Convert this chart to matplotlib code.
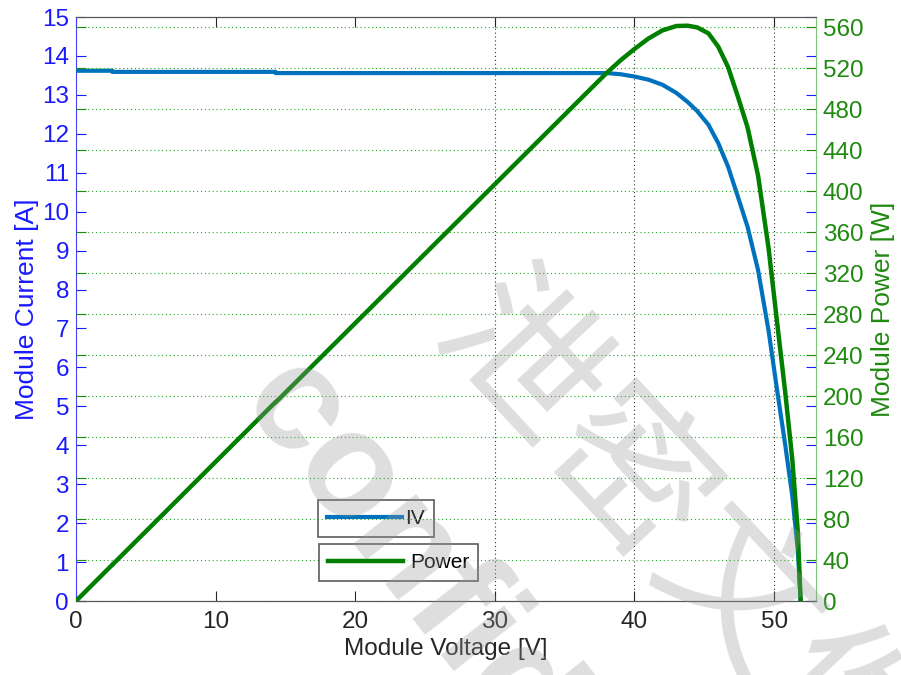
import numpy as np
import matplotlib.pyplot as plt

plt.rcParams['font.family'] = ['Liberation Sans', 'Noto Sans CJK SC', 'DejaVu Sans']

# IV curve
voltage = [0, 2.6, 2.6, 14.3, 14.3, 30, 36, 38, 39, 40, 41, 42, 43, 43.8, 44.5, 45.3,
           46, 46.7, 47.4, 48.1, 48.85, 49.6, 50.2, 50.8, 51.3, 51.7, 51.9]
current = [13.62, 13.62, 13.59, 13.59, 13.56, 13.56, 13.56, 13.56, 13.53, 13.47, 13.39, 13.26, 13.05, 12.82, 12.58, 12.23,
           11.76, 11.16, 10.39, 9.61, 8.5, 6.95, 5.45, 4.0, 2.7, 1.3, 0]
power = [0, 35.4, 35.3, 194.3, 193.9, 406.8, 488.2, 515.3, 527.7, 538.8, 549.0, 556.9, 561.2, 561.5, 559.8, 554.0,
         541.0, 521.2, 492.5, 462.2, 415.2, 344.7, 273.6, 203.2, 138.5, 67.2, 0]

x_ticks = [0, 10, 20, 30, 40, 50]
i_ticks = list(range(0, 16))
p_ticks = list(range(0, 561, 40))

blue = '#0072BD'
green = '#007F00'

fig = plt.figure(figsize=(9.01, 6.75), dpi=100)
ax1 = fig.add_axes([76/901, 1-601/675, 740/901, 584/675])
ax2 = ax1.twinx()

ax1.plot(voltage, current, color=blue, lw=3, label='IV', zorder=3, solid_joinstyle='round')
ax2.plot(voltage, power, color=green, lw=3.2, label='Power', zorder=3, solid_joinstyle='round')

ax1.set_xlim(0, 53)
ax1.set_ylim(0, 15)
ax2.set_ylim(0, 570)
ax1.set_xticks(x_ticks)
ax1.set_yticks(i_ticks)
ax2.set_yticks(p_ticks)

fs = 17.5
ax1.set_xlabel('Module Voltage [V]', fontsize=fs, color='#262626', labelpad=4)
ax1.set_ylabel('Module Current [A]', fontsize=19, color='#1a1aff', labelpad=2)
ax2.set_ylabel('Module Power [W]', fontsize=19, color='#1f8a0f', labelpad=5)

ax1.tick_params(axis='x', direction='in', top=True, length=7, labelsize=fs, colors='#262626', pad=7)
ax1.tick_params(axis='y', direction='in', right=True, length=7, labelsize=fs, colors='#1a1aff', pad=5)
ax2.tick_params(axis='y', direction='in', left=True, length=7, labelsize=fs, colors='#1f8a0f', pad=5)
for t in ax1.yaxis.get_ticklines():
    t.set_color('#3333ff')
for t in ax2.yaxis.get_ticklines():
    t.set_color('#2f9a2f')

for ax in (ax1, ax2):
    ax.spines['top'].set_color('#555555')
    ax.spines['bottom'].set_color('#555555')
ax1.spines['left'].set_color('#4444ff')
ax2.spines['left'].set_visible(False)
ax1.spines['right'].set_visible(False)
ax2.spines['right'].set_color('#7cc47c')

# grids: green horizontal from power axis, black vertical only on right part
ax2.grid(axis='y', color='#22aa22', linestyle=(0, (1, 2.5)), lw=0.8)
ax1.grid(axis='x', color='#333333', linestyle=(0, (1, 2.5)), lw=0.8)
for tick, line in zip(x_ticks, ax1.xaxis.get_gridlines()):
    if tick < 25:
        line.set_visible(False)

leg1 = ax1.legend(loc='upper left', bbox_to_anchor=(0.327, 0.173), fontsize=15,
                  frameon=True, fancybox=False, edgecolor='#333333', handlelength=3.6,
                  handletextpad=0.15, borderpad=0.43, borderaxespad=0)
leg1.get_frame().set_linewidth(1.2)
leg2 = ax2.legend(loc='upper left', bbox_to_anchor=(0.328, 0.0976), fontsize=15,
                  frameon=True, fancybox=False, edgecolor='#333333', handlelength=3.6,
                  handletextpad=0.35, borderpad=0.43, borderaxespad=0)
leg2.get_frame().set_linewidth(1.2)
leg1.set_zorder(5)
leg2.set_zorder(5)

# watermark
fig.text(236/901, 1-402/675, 'confidential', fontsize=108, color='#999999', alpha=0.32,
         fontweight='bold', rotation=-51.8, ha='left', va='baseline', rotation_mode='anchor', zorder=10)
fig.text(680/901, 1-540/675, '泄密文件', fontsize=115, color='#999999', alpha=0.32,
         family=['Noto Sans CJK SC', 'DejaVu Sans'], fontweight='medium',
         rotation=-47, ha='center', va='center', rotation_mode='anchor', zorder=10)

fig.savefig('out.png', dpi=100)
